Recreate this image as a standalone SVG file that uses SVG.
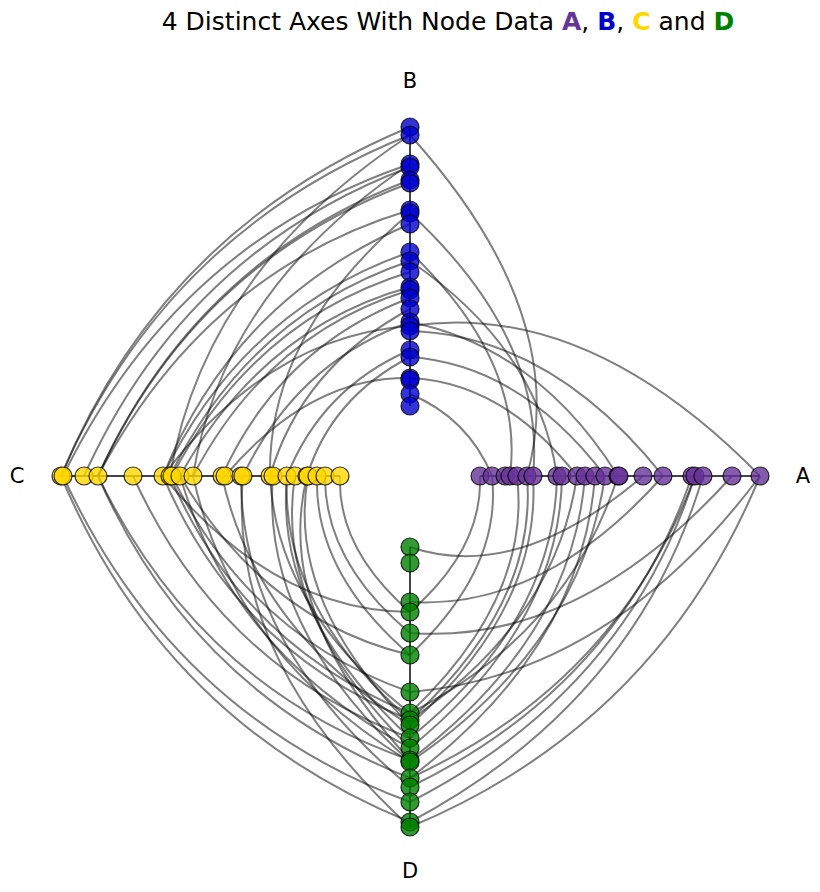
<svg xmlns="http://www.w3.org/2000/svg" width="820" height="892" viewBox="0 0 820 892">
<style>
text{font-family:"DejaVu Sans",sans-serif;fill:#000}
.lbl{font-size:21px;text-anchor:middle;dominant-baseline:central}
.ax{stroke:#444;stroke-width:2;fill:none}
.e path{fill:none;stroke:#000;stroke-opacity:0.5;stroke-width:2}
circle{r:9px;stroke:#000;stroke-opacity:0.8;stroke-width:1.2}
.A circle{fill:#663399;fill-opacity:0.8}
.B circle{fill:#0000cc;fill-opacity:0.8}
.C circle{fill:#ffd700;fill-opacity:0.8}
.D circle{fill:#008000;fill-opacity:0.8}
</style>
<rect width="820" height="892" fill="#fff"/>
<text x="448" y="21" font-size="25" text-anchor="middle" dominant-baseline="central">4 Distinct Axes With Node Data <tspan fill="#663399" font-weight="bold">A</tspan>, <tspan fill="#0000cc" font-weight="bold">B</tspan>, <tspan fill="#ffd700" font-weight="bold">C</tspan> and <tspan fill="#008000" font-weight="bold">D</tspan></text>
<g id="axes">
<line class="ax" x1="410" y1="406" x2="410" y2="127"/>
<line class="ax" x1="340" y1="476" x2="61" y2="476"/>
<line class="ax" x1="480" y1="476" x2="760" y2="476"/>
<line class="ax" x1="410" y1="547" x2="410" y2="827"/>
</g>
<g id="connectors" class="e">
<path d="M61 476Q163.2 229.2 410 127"/>
<path d="M61 476Q166.1 232.1 410 135"/>
<path d="M63 476Q177 243 410 164"/>
<path d="M84 476Q185.5 251.5 410 167"/>
<path d="M98 476Q195 261 410 180"/>
<path d="M98 476Q196.1 262.1 410 183"/>
<path d="M98 476Q205.6 271.6 410 210"/>
<path d="M163 476Q233.6 299.6 410 224"/>
<path d="M163 476Q243.5 309.5 410 252"/>
<path d="M170 476Q249.1 315.1 410 261"/>
<path d="M172 476Q253.7 319.7 410 272"/>
<path d="M180 476Q261.9 327.9 410 287"/>
<path d="M193 476Q267.5 333.5 410 290"/>
<path d="M222 476Q280.6 346.6 410 298"/>
<path d="M270 476Q301.5 367.5 410 309"/>
<path d="M243 476Q296.5 362.5 410 322"/>
<path d="M163 476Q269.6 335.6 410 326"/>
<path d="M287 476Q322 388 410 350"/>
<path d="M307 476Q331.5 397.5 410 357"/>
<path d="M225 476Q309.9 375.9 410 378"/>
<path d="M170 476Q204.6 270.6 410 135"/>
<path d="M193 476Q223 289 410 164"/>
<path d="M270 476Q267.5 333.5 410 213"/>
<path d="M61 476Q164.3 721.7 410 822"/>
<path d="M63 476Q172.1 713.9 410 802"/>
<path d="M98 476Q192.9 693.1 410 778"/>
<path d="M98 476Q199.3 686.7 410 760"/>
<path d="M133 476Q219.4 666.6 410 738"/>
<path d="M163 476Q236.4 649.6 410 720"/>
<path d="M170 476Q241.4 644.6 410 713"/>
<path d="M172 476Q249.5 636.5 410 692"/>
<path d="M180 476Q232.5 653.5 410 748"/>
<path d="M193 476Q232.2 653.8 410 762"/>
<path d="M222 476Q255.5 630.5 410 725"/>
<path d="M241 476Q240.3 645.7 410 787"/>
<path d="M243 476Q226.9 659.1 410 827"/>
<path d="M270 476Q276.7 609.3 410 713"/>
<path d="M287 476Q280.2 605.8 410 720"/>
<path d="M287 476Q273.9 612.1 410 738"/>
<path d="M295 476Q273.2 612.8 410 748"/>
<path d="M307 476Q273.2 612.8 410 760"/>
<path d="M317 476Q313.8 572.2 410 655"/>
<path d="M325 476Q324.4 561.6 410 633"/>
<path d="M340 476Q337.2 548.8 410 612"/>
<path d="M180 476Q265.4 620.6 410 655"/>
<path d="M163 476Q274.6 611.4 410 612"/>
<path d="M308 476Q285.9 600.1 410 725"/>
<path d="M273 476Q260.4 625.6 410 762"/>
<path d="M527 476Q571.9 314.1 410 135"/>
<path d="M533 476Q546.5 339.5 410 213"/>
<path d="M618 476Q538 348 410 322"/>
<path d="M663 476Q550.7 335.3 410 331"/>
<path d="M760 476Q586.8 299.2 410 326"/>
<path d="M605 476Q521 365 410 357"/>
<path d="M577 476Q503.7 382.3 410 378"/>
<path d="M510 476Q524.6 361.4 410 252"/>
<path d="M557 476Q538 348 410 261"/>
<path d="M492 476Q468 418 410 394"/>
<path d="M480 476Q482.8 548.8 410 612"/>
<path d="M492 476Q502.3 568.3 410 655"/>
<path d="M517 476Q531.6 597.6 410 713"/>
<path d="M527 476Q537.6 603.6 410 720"/>
<path d="M533 476Q541.5 607.5 410 725"/>
<path d="M557 476Q554.6 620.6 410 738"/>
<path d="M562 476Q559.9 625.9 410 748"/>
<path d="M585 476Q572.3 638.3 410 760"/>
<path d="M595 476Q582.2 648.2 410 778"/>
<path d="M605 476Q580.1 646.1 410 762"/>
<path d="M618 476Q567.3 633.3 410 713"/>
<path d="M643 476Q517.5 583.5 410 547"/>
<path d="M663 476Q544 610 410 602"/>
<path d="M692 476Q619.7 685.7 410 787"/>
<path d="M695 476Q626 692 410 802"/>
<path d="M703 476Q635.9 701.9 410 822"/>
<path d="M732 476Q579.4 645.4 410 633"/>
<path d="M760 476Q657.8 723.8 410 827"/>
<path d="M760 476Q610.1 676.1 410 692"/>
<path d="M695 476Q617.5 683.5 410 778"/>
<path d="M577 476Q555.3 621.3 410 720"/>
</g>
<g id="nodes-B" class="B">
<circle cx="410" cy="127"/><circle cx="410" cy="135"/><circle cx="410" cy="164"/><circle cx="410" cy="167"/><circle cx="410" cy="180"/><circle cx="410" cy="183"/><circle cx="410" cy="210"/><circle cx="410" cy="213"/><circle cx="410" cy="224"/><circle cx="410" cy="252"/><circle cx="410" cy="261"/><circle cx="410" cy="272"/><circle cx="410" cy="287"/><circle cx="410" cy="290"/><circle cx="410" cy="298"/><circle cx="410" cy="309"/><circle cx="410" cy="322"/><circle cx="410" cy="326"/><circle cx="410" cy="331"/><circle cx="410" cy="350"/><circle cx="410" cy="357"/><circle cx="410" cy="378"/><circle cx="410" cy="380"/><circle cx="410" cy="394"/><circle cx="410" cy="406"/>
</g>
<g id="nodes-C" class="C">
<circle cx="61" cy="476"/><circle cx="63" cy="476"/><circle cx="84" cy="476"/><circle cx="98" cy="476"/><circle cx="133" cy="476"/><circle cx="163" cy="476"/><circle cx="170" cy="476"/><circle cx="172" cy="476"/><circle cx="180" cy="476"/><circle cx="193" cy="476"/><circle cx="222" cy="476"/><circle cx="225" cy="476"/><circle cx="241" cy="476"/><circle cx="243" cy="476"/><circle cx="270" cy="476"/><circle cx="273" cy="476"/><circle cx="287" cy="476"/><circle cx="295" cy="476"/><circle cx="307" cy="476"/><circle cx="308" cy="476"/><circle cx="317" cy="476"/><circle cx="325" cy="476"/><circle cx="340" cy="476"/>
</g>
<g id="nodes-A" class="A">
<circle cx="480" cy="476"/><circle cx="492" cy="476"/><circle cx="505" cy="476"/><circle cx="510" cy="476"/><circle cx="517" cy="476"/><circle cx="527" cy="476"/><circle cx="533" cy="476"/><circle cx="557" cy="476"/><circle cx="562" cy="476"/><circle cx="577" cy="476"/><circle cx="585" cy="476"/><circle cx="595" cy="476"/><circle cx="605" cy="476"/><circle cx="618" cy="476"/><circle cx="619" cy="476"/><circle cx="643" cy="476"/><circle cx="663" cy="476"/><circle cx="692" cy="476"/><circle cx="695" cy="476"/><circle cx="703" cy="476"/><circle cx="732" cy="476"/><circle cx="760" cy="476"/>
</g>
<g id="nodes-D" class="D">
<circle cx="410" cy="547"/><circle cx="410" cy="563"/><circle cx="410" cy="602"/><circle cx="410" cy="612"/><circle cx="410" cy="633"/><circle cx="410" cy="655"/><circle cx="410" cy="692"/><circle cx="410" cy="713"/><circle cx="410" cy="720"/><circle cx="410" cy="725"/><circle cx="410" cy="738"/><circle cx="410" cy="748"/><circle cx="410" cy="760"/><circle cx="410" cy="762"/><circle cx="410" cy="778"/><circle cx="410" cy="787"/><circle cx="410" cy="802"/><circle cx="410" cy="822"/><circle cx="410" cy="827"/>
</g>
<g id="labels">
<text class="lbl" x="410" y="81">B</text>
<text class="lbl" x="17" y="476">C</text>
<text class="lbl" x="803" y="476">A</text>
<text class="lbl" x="410" y="871">D</text>
</g>
</svg>
